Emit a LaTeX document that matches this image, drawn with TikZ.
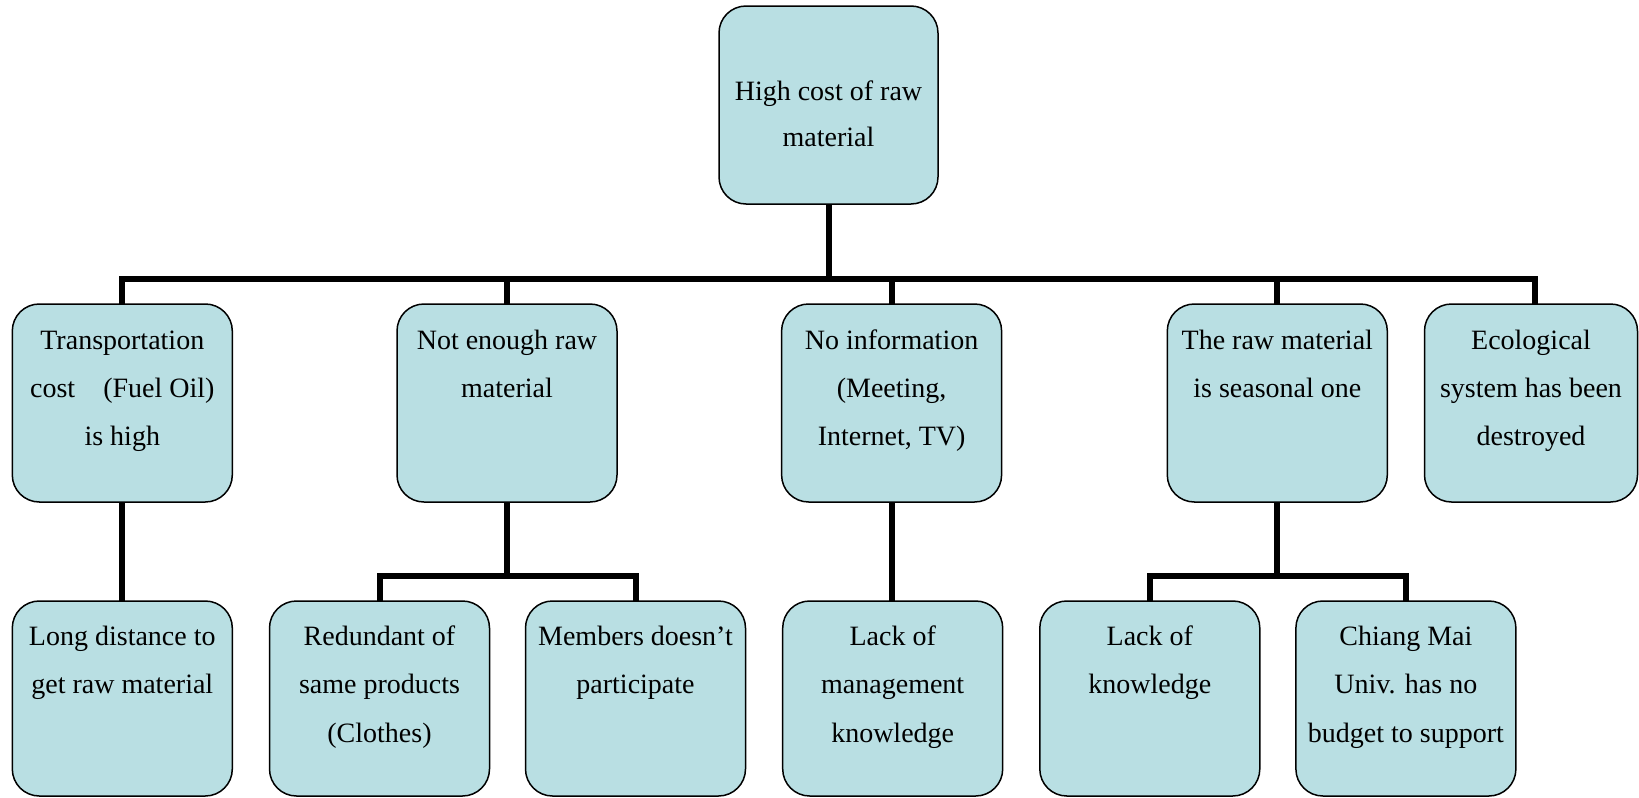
\documentclass[tikz,border=0pt]{standalone}
\usepackage{fontspec}
\setmainfont{Liberation Serif}
\definecolor{boxfill}{RGB}{185,223,227}
% box text: fixed box size, first baseline #1 below the top edge
\newcommand{\boxtext}[4]{\parbox[t][#2][t]{#3}{\centering\rule{0pt}{#1}#4}}
\begin{document}
\begin{tikzpicture}[x=1pt,y=-1pt,
  box/.style={draw=black, line width=1.5pt, fill=boxfill, rounded corners=27pt,
    inner sep=0pt, outer sep=0pt, anchor=north, font=\fontsize{28}{48}\selectfont},
  lowbox/.style={box, font=\fontsize{28}{48.6}\selectfont},
  link/.style={line width=6pt, line join=miter, line cap=butt}]
\useasboundingbox (0,0) rectangle (1639,798);
\clip (0,0) rectangle (1639,798);

% root
\node[box] (top) at (828.5,6)
  {\boxtext{94pt}{198pt}{219pt}{\fontsize{28}{46.5}\selectfont High cost of raw\\material}};

% second level
\node[box] (c1) at (122.3,304) {\boxtext{45pt}{198pt}{220pt}{Transportation\\cost\hspace{0.75em} (Fuel Oil)\\is high}};
\node[box] (c2) at (507,304) {\boxtext{45pt}{198pt}{220pt}{Not enough raw\\material}};
\node[box] (c3) at (891.6,304) {\boxtext{45pt}{198pt}{220pt}{No information\\(Meeting,\\Internet, TV)}};
\node[box] (c4) at (1277.3,304) {\boxtext{45pt}{198pt}{220pt}{The raw material\\is seasonal one}};
\node[box] (eco) at (1531,304) {\boxtext{45pt}{198pt}{213pt}{Ecological\\system has been\\destroyed}};

% third level
\node[lowbox] (d1) at (122.3,601) {\boxtext{44pt}{195pt}{220pt}{Long distance to\\get raw material}};
\node[lowbox] (d2) at (379.5,601) {\boxtext{44pt}{195pt}{220pt}{Redundant of\\same products\\(Clothes)}};
\node[lowbox] (d3) at (635.5,601) {\boxtext{44pt}{195pt}{220pt}{Members doesn’t\\participate}};
\node[lowbox] (d4) at (892.7,601) {\boxtext{44pt}{195pt}{220pt}{Lack of\\management\\knowledge}};
\node[lowbox] (d5) at (1149.8,601) {\boxtext{44pt}{195pt}{220pt}{Lack of\\knowledge}};
\node[lowbox] (d6) at (1405.9,601) {\boxtext{44pt}{195pt}{220pt}{Chiang Mai\\Univ. has no\\budget to support}};

% bus lines
\coordinate (busA) at (0,279);
\coordinate (busB) at (0,576);
\coordinate (ecoIn) at (1535,304);

% root to second level
\draw[link] (top.south) -- (top.south |- busA);
\draw[link] (c1.north) |- (ecoIn |- busA) -- (ecoIn);
\draw[link] (c2.north) -- (c2.north |- busA);
\draw[link] (c3.north) -- (c3.north |- busA);
\draw[link] (c4.north) -- (c4.north |- busA);

% second to third level
\draw[link] (c1.south) -- (d1.north);
\draw[link] (c2.south) -- (c2.south |- busB);
\draw[link] (d2.north) |- (d3.north |- busB) -- (d3.north);
\draw[link] (c3.south) -- (c3.south |- d4.north);
\draw[link] (c4.south) -- (c4.south |- busB);
\draw[link] (d5.north) |- (d6.north |- busB) -- (d6.north);
\end{tikzpicture}
\end{document}
